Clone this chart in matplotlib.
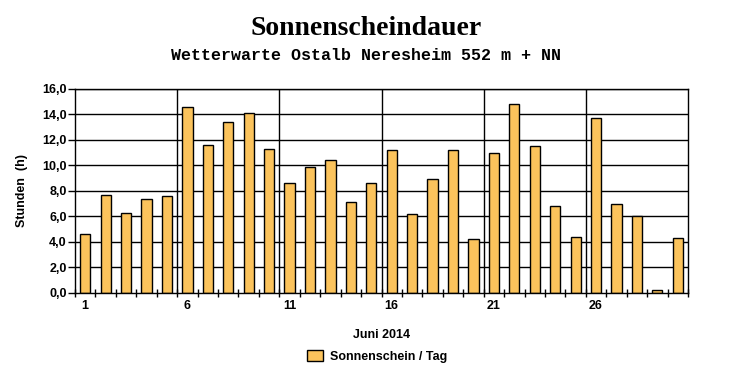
import matplotlib.pyplot as plt
import numpy as np

days = list(range(1, 31))
sunshine = [4.6, 7.7, 6.3, 7.4, 7.6, 14.6, 11.6, 13.4, 14.1, 11.3,
            8.6, 9.9, 10.4, 7.1, 8.6, 11.2, 6.2, 8.9, 11.2, 4.2,
            11.0, 14.8, 11.5, 6.8, 4.4, 13.7, 7.0, 6.0, 0.2, 4.3]
x_labels = [1, 6, 11, 16, 21, 26]
y_ticks = [0, 2, 4, 6, 8, 10, 12, 14, 16]

fig = plt.figure(figsize=(7.32, 3.80), dpi=100)
ax = fig.add_axes([0.1025, 0.229, 0.8374, 0.537])

# horizontal grid
for y in y_ticks[1:]:
    ax.axhline(y, color='black', lw=1, zorder=1)
# vertical grid every 5 days
for b in [5.5, 10.5, 15.5, 20.5, 25.5]:
    ax.axvline(b, color='black', lw=1, zorder=1)

ax.bar(days, sunshine, width=0.5, color='#fbc35c', edgecolor='black',
       linewidth=1, zorder=2, label='Sonnenschein / Tag')

ax.set_xlim(0.5, 30.5)
ax.set_ylim(0, 16)
ax.set_yticks(y_ticks)
ax.set_yticklabels([f'{v:.1f}'.replace('.', ',') for v in y_ticks])
ax.set_xticks(x_labels)
ax.set_xticks(np.arange(0.5, 31, 1), minor=True)
ax.tick_params(axis='x', which='major', length=0, pad=5)
ax.tick_params(axis='x', which='minor', direction='inout', length=6, width=1)
ax.tick_params(axis='y', direction='out', length=5, width=1, pad=1)
for lab in ax.get_xticklabels() + ax.get_yticklabels():
    lab.set_fontfamily('Liberation Sans')
    lab.set_fontweight('bold')
    lab.set_fontsize(9)
for s in ax.spines.values():
    s.set_linewidth(1)

ax.set_ylabel('Stunden  (h)', fontfamily='Liberation Sans', fontweight='bold',
              fontsize=9, labelpad=10)
ax.set_xlabel('Juni 2014', fontfamily='Liberation Sans', fontweight='bold',
              fontsize=9, labelpad=12)

fig.text(0.5, 0.925, 'Sonnenscheindauer', ha='center', va='center',
         fontfamily='Liberation Serif', fontweight='bold', fontsize=20)
fig.text(0.5, 0.855, 'Wetterwarte Ostalb Neresheim 552 m + NN', ha='center',
         va='center', fontfamily='Liberation Mono', fontweight='bold', fontsize=12)

leg = fig.legend(loc='center', bbox_to_anchor=(0.515, 0.062), frameon=False,
                 prop={'family': 'Liberation Sans', 'weight': 'bold', 'size': 9},
                 handlelength=1.3, handleheight=0.9, handletextpad=0.5)

fig.savefig('out.png', dpi=100)
